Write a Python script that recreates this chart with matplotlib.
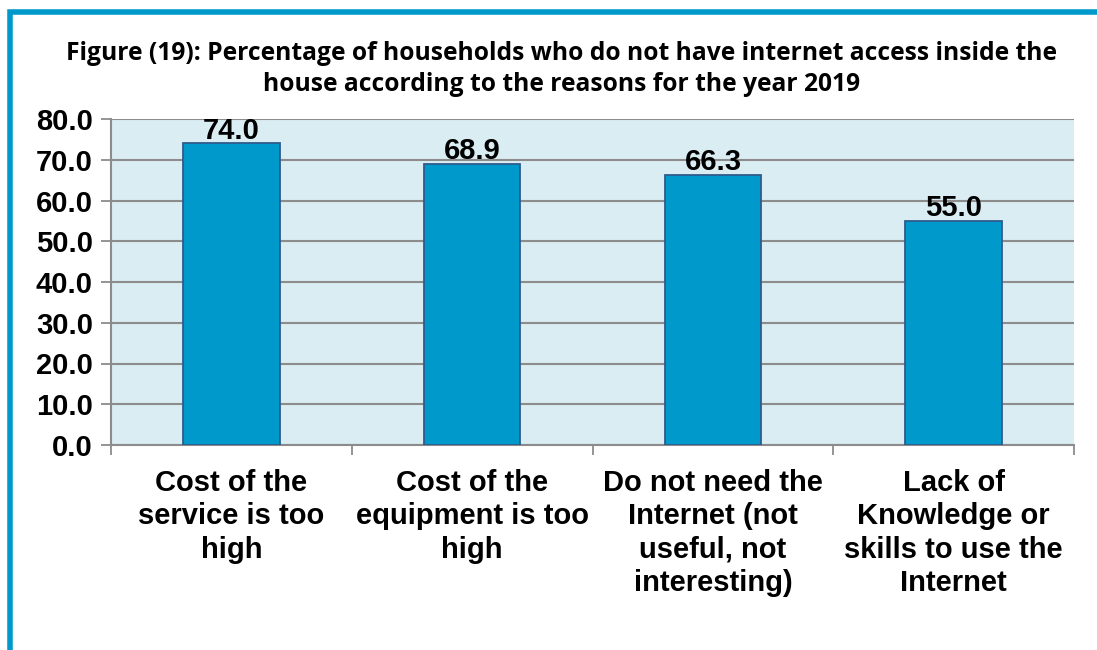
import matplotlib.pyplot as plt
from matplotlib.patches import Rectangle
from matplotlib.ticker import FormatStrFormatter

# data
reasons = ['Cost of the\nservice is too\nhigh',
           'Cost of the\nequipment is too\nhigh',
           'Do not need the\nInternet (not\nuseful, not\ninteresting)',
           'Lack of\nKnowledge or\nskills to use the\nInternet']
percent = [74.0, 68.9, 66.3, 55.0]
y_ticks = [0, 10, 20, 30, 40, 50, 60, 70, 80]

title = ('Figure (19): Percentage of households who do not have internet access inside the\n'
         'house according to the reasons for the year 2019')

bar_color = '#0099CC'
edge_color = '#2F5C8C'
bg_color = '#DAEDF3'
grid_color = '#8C8C8C'

fig = plt.figure(figsize=(10.97, 6.5), dpi=100)
ax = fig.add_axes([111 / 1097, 1 - 445 / 650, (1074 - 111) / 1097, (445 - 119) / 650])

x = list(range(len(reasons)))
ax.bar(x, percent, width=0.4, color=bar_color, edgecolor=edge_color, linewidth=1.3, zorder=3)

for xi, v in zip(x, percent):
    ax.text(xi, v - 0.3, f'{v:.1f}', ha='center', va='bottom', fontsize=21,
            fontweight='bold', family='Liberation Sans', zorder=4)

ax.set_facecolor(bg_color)
ax.set_xlim(-0.5, len(reasons) - 0.5)
ax.set_ylim(0, 80)
ax.set_yticks(y_ticks)
ax.yaxis.set_major_formatter(FormatStrFormatter('%.1f'))
ax.grid(axis='y', color=grid_color, linewidth=1.5, zorder=1)
ax.set_axisbelow(True)

# boundary ticks below axis, labels at the bar centres
ax.set_xticks([i - 0.5 for i in range(len(reasons) + 1)])
ax.set_xticklabels([])
ax.set_xticks(x, minor=True)
ax.set_xticklabels(reasons, minor=True, fontsize=21, fontweight='bold',
                   family='Liberation Sans', linespacing=1.25)
ax.tick_params(axis='x', which='major', length=7, width=1.3, color=grid_color, direction='out')
ax.tick_params(axis='x', which='minor', length=0, pad=17)
ax.tick_params(axis='y', length=7, width=1.3, color=grid_color, pad=6)
for lab in ax.get_yticklabels():
    lab.set_fontsize(21)
    lab.set_fontweight('bold')
    lab.set_family('Liberation Sans')

for s in ['top', 'right']:
    ax.spines[s].set_visible(False)
for s in ['left', 'bottom']:
    ax.spines[s].set_color(grid_color)
    ax.spines[s].set_linewidth(1.5)

fig.text(562 / 1097, 1 - 41 / 650, title, ha='center', va='top', fontsize=17.7,
         fontweight='bold', family='Open Sans', linespacing=1.32)

# blue frame around the chart
fig.patches.append(Rectangle((10 / 1097, -0.1), 1.2, 1.1 - 12 / 650, transform=fig.transFigure,
                             fill=False, edgecolor=bar_color, linewidth=4))

fig.savefig('out.png', dpi=100)
